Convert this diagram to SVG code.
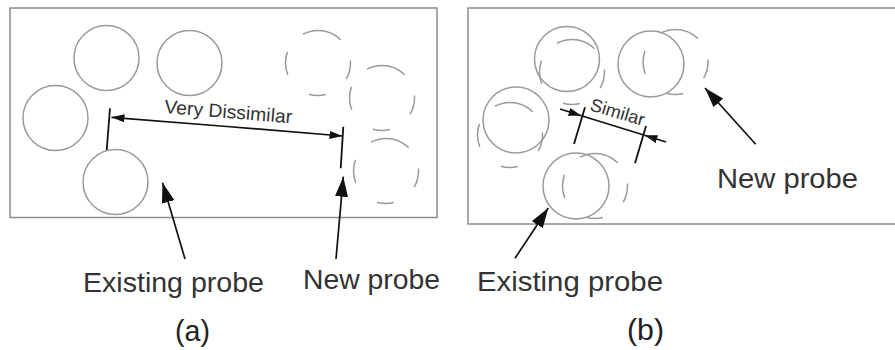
<svg xmlns="http://www.w3.org/2000/svg" width="895" height="350" viewBox="0 0 895 350">
<style>
.frame{fill:none;stroke:#8c8c8c;stroke-width:1.5}
.probe{fill:none;stroke:#9a9a9a;stroke-width:1.5}
.dash{fill:none;stroke:#9a9a9a;stroke-width:1.5;stroke-dasharray:19.85 26.09 17.02 29.49 23.82 23.82 40.84 23.26;stroke-dashoffset:2.84}
.lbl{font-family:"Liberation Sans",Arial,sans-serif;fill:#333;font-size:28px}
.dim{font-family:"Liberation Sans",Arial,sans-serif;fill:#333;font-size:19px}
.cap{font-family:"Liberation Sans",Arial,sans-serif;fill:#222;font-size:29px}
.ln{fill:none;stroke:#111;stroke-width:1.7}
.tick{fill:none;stroke:#111;stroke-width:1.8}
</style>
<defs>
<marker id="big" viewBox="0 0 20 13" refX="20" refY="6.5" markerWidth="20" markerHeight="13" markerUnits="userSpaceOnUse" orient="auto"><path d="M0,0 L20,6.5 L0,13 z" fill="#111"/></marker>
<marker id="small" viewBox="0 0 13 8" refX="13" refY="4" markerWidth="13" markerHeight="8" markerUnits="userSpaceOnUse" orient="auto"><path d="M0,0 L13,4 L0,8 z" fill="#111"/></marker>
</defs>

<g id="panel-a">
<rect class="frame" x="10" y="8" width="427" height="209.5"/>
</g>
<g id="panel-b">
<rect class="frame" x="468" y="8" width="440" height="216"/>
</g>

<g id="a-existing-1"><circle class="probe" cx="106.5" cy="58" r="32.5"/></g>
<g id="a-existing-2"><circle class="probe" cx="189.5" cy="63" r="32.5"/></g>
<g id="a-existing-3"><circle class="probe" cx="55.5" cy="118" r="32.5"/></g>
<g id="a-existing-4"><circle class="probe" cx="115.5" cy="182" r="32.5"/></g>
<g id="a-new-1"><circle class="dash" cx="318" cy="63" r="32.5"/></g>
<g id="a-new-2"><circle class="dash" cx="382" cy="98" r="32.5"/></g>
<g id="a-new-3"><circle class="dash" cx="386" cy="171" r="32.5"/></g>

<g id="b-pair-1"><circle class="probe" cx="567" cy="59" r="32.5"/><circle class="dash" cx="572" cy="72" r="32.5"/></g>
<g id="b-pair-2"><circle class="probe" cx="651" cy="64" r="33"/><circle class="dash" cx="675.5" cy="62" r="32.5"/></g>
<g id="b-pair-3"><circle class="probe" cx="516" cy="120" r="33"/><circle class="dash" cx="510" cy="135" r="32.5"/></g>
<g id="b-pair-4"><circle class="probe" cx="576" cy="186" r="33"/><circle class="dash" cx="595" cy="186" r="32.5"/></g>

<g id="connectors">
<line class="tick" x1="110" y1="108.3" x2="106.7" y2="150"/>
<line class="tick" x1="343.3" y1="126.7" x2="340.7" y2="168.3"/>
<line class="ln" x1="227" y1="126.5" x2="111.5" y2="117.3" marker-end="url(#small)"/>
<line class="ln" x1="227" y1="126.5" x2="342.5" y2="136" marker-end="url(#small)"/>
<line class="ln" x1="185" y1="259" x2="162.5" y2="182.7" marker-end="url(#big)"/>
<line class="ln" x1="336" y1="259" x2="343.3" y2="176.7" marker-end="url(#big)"/>
<line class="tick" x1="585" y1="107.3" x2="574" y2="144"/>
<line class="tick" x1="646" y1="126" x2="635" y2="163.3"/>
<line class="ln" x1="560" y1="109" x2="581.5" y2="115.7" marker-end="url(#small)"/>
<line class="ln" x1="581.5" y1="115.7" x2="644.5" y2="135.3"/>
<line class="ln" x1="666" y1="142" x2="644.5" y2="135.3" marker-end="url(#small)"/>
<line class="ln" x1="755.7" y1="144.3" x2="705" y2="88" marker-end="url(#big)"/>
<line class="ln" x1="515" y1="258.3" x2="548.3" y2="208" marker-end="url(#big)"/>
</g>

<g id="label-very-dissimilar"><text class="dim" x="164" y="113" textLength="128" lengthAdjust="spacingAndGlyphs" transform="rotate(4.6 164 113)">Very Dissimilar</text></g>
<g id="label-similar"><text class="dim" x="589" y="110" font-size="18" style="font-size:18px" textLength="56" lengthAdjust="spacingAndGlyphs" transform="rotate(16.5 589 110)">Similar</text></g>
<g id="label-a-existing"><text class="lbl" x="83" y="292" textLength="181" lengthAdjust="spacingAndGlyphs">Existing probe</text></g>
<g id="label-a-new"><text class="lbl" x="303" y="289" textLength="137" lengthAdjust="spacingAndGlyphs">New probe</text></g>
<g id="label-b-existing"><text class="lbl" x="477" y="291" textLength="186" lengthAdjust="spacingAndGlyphs">Existing probe</text></g>
<g id="label-b-new"><text class="lbl" x="717" y="187.5" textLength="141" lengthAdjust="spacingAndGlyphs">New probe</text></g>
<g id="caption-a"><text class="cap" x="175" y="341" textLength="35" lengthAdjust="spacingAndGlyphs">(a)</text></g>
<g id="caption-b"><text class="cap" x="627" y="340" textLength="37" lengthAdjust="spacingAndGlyphs">(b)</text></g>
</svg>
